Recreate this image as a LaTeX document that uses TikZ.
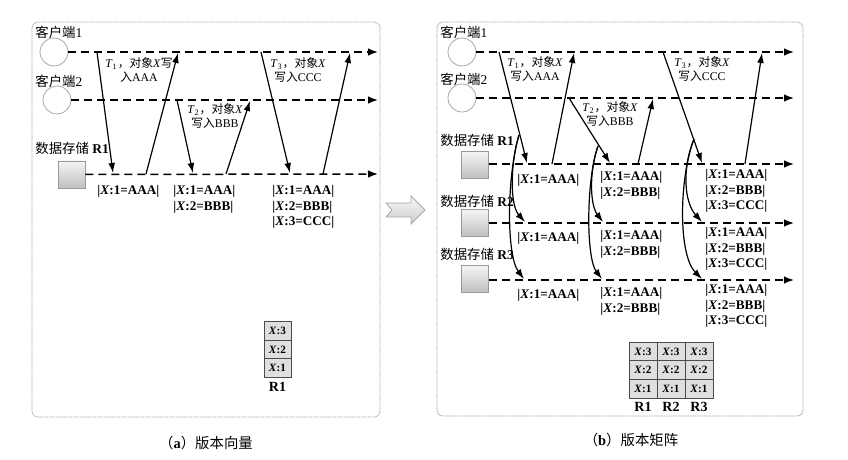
\documentclass[tikz,border=0pt]{standalone}
\usepackage{fontspec}
\setmainfont{Liberation Serif}
\newfontfamily\cjk{Noto Sans CJK SC}
\usetikzlibrary{arrows.meta}

\begin{document}
\begin{tikzpicture}[x=0.5pt,y=-0.5pt,
    client/.style={circle,draw=gray!70,minimum size=14pt,inner sep=0pt},
    store/.style={rectangle,draw=gray!80,top color=gray!8,bottom color=gray!50,minimum size=13.5pt,inner sep=0pt},
    timeline/.style={line width=0.75pt,dash pattern=on 4pt off 2.5pt,-{Latex[length=5pt,width=3.8pt]}},
    msg/.style={line width=0.6pt,-{Latex[length=5pt,width=3.4pt]}},
    frame/.style={draw=gray!70,line width=0.4pt,dash pattern=on 0.8pt off 0.4pt,rounded corners=3pt},
    who/.style={inner sep=0pt,anchor=west,font=\fontsize{6.7}{8}\selectfont},
    op/.style={inner sep=0pt,align=center,font=\fontsize{5.9}{6.8}\selectfont},
    ver/.style={inner sep=0pt,align=left,anchor=north west,font=\fontsize{6.6}{7.75}\selectfont\bfseries},
    cell/.style={rectangle,draw=gray!60!black,fill=gray!25,minimum width=14pt,minimum height=9.3pt,inner sep=0pt,font=\fontsize{5.6}{6}\selectfont\bfseries},
    rep/.style={inner sep=0pt,font=\fontsize{7}{8}\selectfont\bfseries},
    caption/.style={inner sep=0pt,font=\fontsize{7.2}{8}\selectfont}]
  \useasboundingbox (0,0) rectangle (848,460);

  % (a) version vector
  \draw[frame] (32,22) rectangle (380,417);
  \node[who] (a-n1) at (35,32) {{\cjk 客户端}1};
  \node[who] (a-n2) at (35,81) {{\cjk 客户端}2};
  \node[who] (a-n3) at (35,148) {{\cjk 数据存储} \textbf{R1}};
  \node[client] (a-c1) at (54,52) {};
  \node[client] (a-c2) at (57,100) {};
  \node[store] (a-r1) at (71.5,174.5) {};
  \coordinate (a-c1-end) at (378,52);
  \coordinate (a-c2-end) at (378,100);
  \coordinate (a-r1-end) at (378,174);
  \draw[timeline] (a-c1) -- (a-c1-end);
  \draw[timeline] (a-c2) -- (a-c2-end);
  \draw[timeline] (a-r1) -- (a-r1-end);

  \coordinate (a-w1) at (97,52);
  \coordinate (a-w1r) at (113,173);
  \coordinate (a-k1) at (146,174);
  \coordinate (a-k1c) at (178,53);
  \coordinate (a-w2) at (177,100);
  \coordinate (a-w2r) at (193,173);
  \coordinate (a-k2) at (226,174);
  \coordinate (a-k2c) at (250,101);
  \coordinate (a-w3) at (261,52);
  \coordinate (a-w3r) at (290,173);
  \coordinate (a-k3) at (323,174);
  \coordinate (a-k3c) at (350,53);
  \draw[msg] (a-w1) -- (a-w1r);
  \draw[msg] (a-k1) -- (a-k1c);
  \draw[msg] (a-w2) -- (a-w2r);
  \draw[msg] (a-k2) -- (a-k2c);
  \draw[msg] (a-w3) -- (a-w3r);
  \draw[msg] (a-k3) -- (a-k3c);

  \node[op] (a-t1) at (139,70) {\textit{T}\textsubscript{1}{\cjk ，对象}\textit{X}{\cjk 写}\\{\cjk 入}AAA};
  \node[op] (a-t2) at (215,116) {\textit{T}\textsubscript{2}{\cjk ，对象}\textit{X}\\{\cjk 写入}BBB};
  \node[op] (a-t3) at (298,70) {\textit{T}\textsubscript{3}{\cjk ，对象}\textit{X}\\{\cjk 写入}CCC};

  \node[ver] (a-v1) at (97,185) {|\textit{X}:1=AAA|};
  \node[ver] (a-v2) at (173,185) {|\textit{X}:1=AAA|\\|\textit{X}:2=BBB|};
  \node[ver] (a-v3) at (272,185) {|\textit{X}:1=AAA|\\|\textit{X}:2=BBB|\\|\textit{X}:3=CCC|};

  \node[cell,minimum width=13.5pt] (a-x3) at (277.5,331) {\textit{X}:3};
  \node[cell,minimum width=13.5pt] (a-x2) at (277.5,349.6) {\textit{X}:2};
  \node[cell,minimum width=13.5pt] (a-x1) at (277.5,368.2) {\textit{X}:1};
  \node[rep] (a-rr1) at (277.5,387) {R1};
  \node[caption] (a-cap) at (206,443) {{\cjk （}\textbf{a}{\cjk ）版本向量}};

  % between the panels
  \draw[draw=gray!70,top color=gray!5,bottom color=gray!40]
    (386,203) -- (411,203) -- (411,196) -- (425,210) -- (411,224) -- (411,217) -- (386,217) -- (392,210) -- cycle;

  % (b) version matrix
  \draw[frame] (437,22) rectangle (803,416);
  \node[who] (b-n1) at (440,32) {{\cjk 客户端}1};
  \node[who] (b-n2) at (440,79) {{\cjk 客户端}2};
  \node[who] (b-n3) at (440,140) {{\cjk 数据存储} \textbf{R1}};
  \node[who] (b-n4) at (440,201) {{\cjk 数据存储} \textbf{R2}};
  \node[who] (b-n5) at (440,254) {{\cjk 数据存储} \textbf{R3}};
  \node[client] (b-c1) at (462,52) {};
  \node[client] (b-c2) at (462,98) {};
  \node[store] (b-r1) at (475,165) {};
  \node[store] (b-r2) at (475,223) {};
  \node[store] (b-r3) at (475,279) {};
  \coordinate (b-c1-end) at (794,52);
  \coordinate (b-c2-end) at (794,98);
  \coordinate (b-r1-end) at (794,164);
  \coordinate (b-r2-end) at (794,223);
  \coordinate (b-r3-end) at (794,280);
  \draw[timeline] (b-c1) -- (b-c1-end);
  \draw[timeline] (b-c2) -- (b-c2-end);
  \draw[timeline] (b-r1.east |- b-r1-end) -- (b-r1-end);
  \draw[timeline] (b-r2) -- (b-r2-end);
  \draw[timeline] (b-r3.east |- b-r3-end) -- (b-r3-end);

  \coordinate (b-w1) at (499,52);
  \coordinate (b-w1r) at (527,163);
  \coordinate (b-w1x) at (519,135);
  \coordinate (b-w1r2) at (525,222);
  \coordinate (b-w1r3) at (524,279);
  \coordinate (b-k1) at (552,164);
  \coordinate (b-k1c) at (574,53);
  \coordinate (b-w2) at (569,98);
  \coordinate (b-w2r) at (610,163);
  \coordinate (b-w2x) at (598,146);
  \coordinate (b-w2r2) at (603,222);
  \coordinate (b-w2r3) at (602,279);
  \coordinate (b-k2) at (638,164);
  \coordinate (b-k2c) at (653,99);
  \coordinate (b-w3) at (663,52);
  \coordinate (b-w3r) at (702,163);
  \coordinate (b-w3x) at (694,139);
  \coordinate (b-w3r2) at (702,222);
  \coordinate (b-w3r3) at (702,279);
  \coordinate (b-k3) at (745,164);
  \coordinate (b-k3c) at (762,53);
  \draw[msg] (b-w1) -- (b-w1r);
  \draw[msg] (b-w1x) .. controls (510,165) and (510,205) .. (b-w1r2);
  \draw[msg] (b-w1x) .. controls (507,175) and (506,255) .. (b-w1r3);
  \draw[msg] (b-k1) -- (b-k1c);
  \draw[msg] (b-w2) -- (b-w2r);
  \draw[msg] (b-w2x) .. controls (589,172) and (590,205) .. (b-w2r2);
  \draw[msg] (b-w2x) .. controls (586,180) and (586,258) .. (b-w2r3);
  \draw[msg] (b-k2) -- (b-k2c);
  \draw[msg] (b-w3) -- (b-w3r);
  \draw[msg] (b-w3x) .. controls (682,168) and (684,202) .. (b-w3r2);
  \draw[msg] (b-w3x) .. controls (679,178) and (678,255) .. (b-w3r3);
  \draw[msg] (b-k3) -- (b-k3c);

  \node[op] (b-t1) at (535,69) {\textit{T}\textsubscript{1}{\cjk ，对象}\textit{X}\\{\cjk 写入}AAA};
  \node[op] (b-t2) at (610,114) {\textit{T}\textsubscript{2}{\cjk ，对象}\textit{X}\\{\cjk 写入}BBB};
  \node[op] (b-t3) at (702,69) {\textit{T}\textsubscript{3}{\cjk ，对象}\textit{X}\\{\cjk 写入}CCC};

  \node[ver] (b-v11) at (517,174) {|\textit{X}:1=AAA|};
  \node[ver] (b-v12) at (517,232) {|\textit{X}:1=AAA|};
  \node[ver] (b-v13) at (517,289) {|\textit{X}:1=AAA|};
  \node[ver] (b-v21) at (600,171) {|\textit{X}:1=AAA|\\|\textit{X}:2=BBB|};
  \node[ver] (b-v22) at (600,230) {|\textit{X}:1=AAA|\\|\textit{X}:2=BBB|};
  \node[ver] (b-v23) at (600,287) {|\textit{X}:1=AAA|\\|\textit{X}:2=BBB|};
  \node[ver] (b-v31) at (705,169) {|\textit{X}:1=AAA|\\|\textit{X}:2=BBB|\\|\textit{X}:3=CCC|};
  \node[ver] (b-v32) at (705,227) {|\textit{X}:1=AAA|\\|\textit{X}:2=BBB|\\|\textit{X}:3=CCC|};
  \node[ver] (b-v33) at (705,284) {|\textit{X}:1=AAA|\\|\textit{X}:2=BBB|\\|\textit{X}:3=CCC|};

  \node[cell] (b-x13) at (643,351.5) {\textit{X}:3};
  \node[cell] (b-x12) at (643,370.2) {\textit{X}:2};
  \node[cell] (b-x11) at (643,388.9) {\textit{X}:1};
  \node[cell] (b-x23) at (671,351.5) {\textit{X}:3};
  \node[cell] (b-x22) at (671,370.2) {\textit{X}:2};
  \node[cell] (b-x21) at (671,388.9) {\textit{X}:1};
  \node[cell] (b-x33) at (699,351.5) {\textit{X}:3};
  \node[cell] (b-x32) at (699,370.2) {\textit{X}:2};
  \node[cell] (b-x31) at (699,388.9) {\textit{X}:1};
  \node[rep] (b-rr1) at (643,407) {R1};
  \node[rep] (b-rr2) at (671,407) {R2};
  \node[rep] (b-rr3) at (699,407) {R3};
  \node[caption] (b-cap) at (631,440) {{\cjk （}\textbf{b}{\cjk ）版本矩阵}};
\end{tikzpicture}
\end{document}
